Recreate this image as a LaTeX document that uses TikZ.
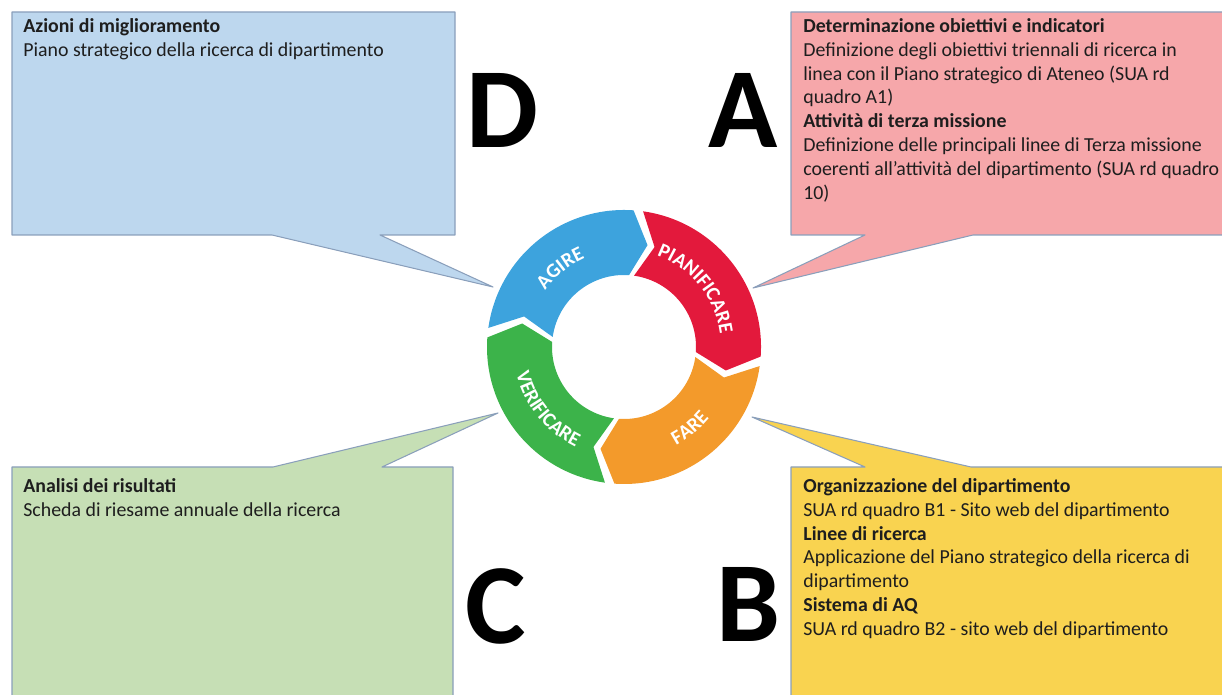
\documentclass[tikz,border=0pt]{standalone}
\usepackage{fontspec}
\setmainfont{Carlito}
\usetikzlibrary{decorations.text}
\definecolor{fillD}{HTML}{BDD7EE}
\definecolor{fillA}{HTML}{F6A7AA}
\definecolor{fillC}{HTML}{C6DFB5}
\definecolor{fillB}{HTML}{F9D350}
\definecolor{edgecol}{HTML}{8A9FBB}
\definecolor{txtcol}{HTML}{1E1E1E}
\definecolor{ringD}{HTML}{3DA3DD}
\definecolor{ringA}{HTML}{E3193C}
\definecolor{ringB}{HTML}{F39A2B}
\definecolor{ringC}{HTML}{3CB34A}
\newcommand\ringfont{\fontsize{11.5}{11.5}\selectfont\bfseries\color{white}}

\begin{document}
\begin{tikzpicture}[line cap=round,line join=round,x=0.02cm,y=0.02cm,
  callout/.style={draw=edgecol,line width=0.6pt},
  boxtext/.style={anchor=north west,inner sep=0pt,align=left,text=txtcol,
    font=\fontsize{11.3}{13.6}\selectfont},
  bigletter/.style={inner sep=0pt,font=\fontsize{65}{65}\selectfont\bfseries},
  ringtext/.style={decorate,decoration={text along path,text align=center,text={|\ringfont|#1}}}]
\useasboundingbox (0,0) rectangle (1222,695);
\clip (0,0) rectangle (1222,695);
\coordinate (tipD) at (493,408);
\coordinate (tipA) at (753,407);
\coordinate (tipC) at (498,282);
\coordinate (tipB) at (752,278);
\filldraw[callout,fill=fillD] (12,683) -- (455,683) -- (455,460) -- (380,460) -- (tipD) -- (272,460) -- (12,460) -- cycle;
\filldraw[callout,fill=fillA] (791,683) -- (1232,683) -- (1232,460) -- (973,460) -- (tipA) -- (865,460) -- (791,460) -- cycle;
\filldraw[callout,fill=fillC] (12,228) -- (273,228) -- (tipC) -- (382,228) -- (453,228) -- (453,-5) -- (12,-5) -- cycle;
\filldraw[callout,fill=fillB] (791,228) -- (865,228) -- (tipB) -- (971,228) -- (1232,228) -- (1232,-5) -- (791,-5) -- cycle;
\node[boxtext] (txtD) at (23,677) {\textbf{Azioni di miglioramento}\\
  Piano strategico della ricerca di dipartimento};
\node[boxtext] (txtA) at (803,677) {\textbf{Determinazione obiettivi e indicatori}\\
  Definizione degli obiettivi triennali di ricerca in\\
  linea con il Piano strategico di Ateneo (SUA rd\\
  quadro A1)\\
  \textbf{Attività di terza missione}\\
  Definizione delle principali linee di Terza missione\\
  coerenti all’attività del dipartimento (SUA rd quadro\\
  10)};
\node[boxtext] (txtC) at (23,217) {\textbf{Analisi dei risultati}\\
  Scheda di riesame annuale della ricerca};
\node[boxtext] (txtB) at (803,217) {\textbf{Organizzazione del dipartimento}\\
  SUA rd quadro B1 - Sito web del dipartimento\\
  \textbf{Linee di ricerca}\\
  Applicazione del Piano strategico della ricerca di\\
  dipartimento\\
  \textbf{Sistema di AQ}\\
  SUA rd quadro B2 - sito web del dipartimento};
\node[bigletter] (letD) at (502,585) {D};
\node[bigletter] (letA) at (743,585) {A};
\node[bigletter] (letC) at (496,89) {C};
\node[bigletter] (letB) at (748,91) {B};
\begin{scope}[shift={(624,348)}]
\coordinate (ring) at (0,0);
\foreach \g/\col in {174/ringD,84/ringA,-6/ringB,-96/ringC}
  \fill[\col] (\g-2:137) arc[start angle=\g-2,end angle=\g-88,radius=137]
    -- (\g-97:104.5) -- (\g-88:72) arc[start angle=\g-88,end angle=\g-2,radius=72]
    -- (\g-11:104.5) -- cycle;
\path[ringtext=AGIRE] (174:97) arc[start angle=174,end angle=84,radius=97];
\path[ringtext=PIANIFICARE] (84:97) arc[start angle=84,end angle=-6,radius=97];
\path[ringtext=FARE] (-96:111) arc[start angle=-96,end angle=-6,radius=111];
\path[ringtext=VERIFICARE] (-186:111) arc[start angle=-186,end angle=-96,radius=111];
\end{scope}
\end{tikzpicture}
\end{document}
